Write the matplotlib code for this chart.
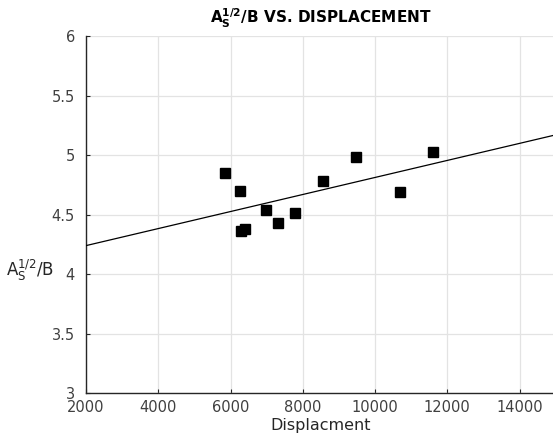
import matplotlib
matplotlib.use("Agg")
import matplotlib.pyplot as plt

plt.rcParams['font.family'] = ['DejaVu Sans']
plt.rcParams['mathtext.default'] = 'regular'

# measured displacement vs. A_S^(1/2)/B
displacement = [5840, 6260, 6290, 6400, 6980, 7310, 7790, 8570, 9460, 10690, 11610]
ratio = [4.85, 4.70, 4.36, 4.38, 4.54, 4.43, 4.51, 4.78, 4.98, 4.69, 5.03]

# linear fit, endpoints over the plotted range
fit_x = [2000, 15000]
fit_y = [4.24, 5.17]

x_ticks = [2000, 4000, 6000, 8000, 10000, 12000, 14000]
y_ticks = [3, 3.5, 4, 4.5, 5, 5.5, 6]

W, H = 553, 441
fig = plt.figure(figsize=(W / 100, H / 100), dpi=100)
ax = fig.add_axes([86 / W, 47.7 / H, (555.7 - 86) / W, (393.3 - 36) / H])

ax.plot(fit_x, fit_y, color='black', lw=0.9, zorder=3)
ax.plot(displacement, ratio, 's', color='black', markersize=7.2, zorder=4)

ax.set_xlim(2000, 15000)
ax.set_ylim(3, 6)
ax.set_xticks(x_ticks)
ax.set_yticks(y_ticks)
ax.set_yticklabels(['3', '3.5', '4', '4.5', '5', '5.5', '6'])

ax.grid(True, color='#e3e3e3', lw=0.9)
ax.set_axisbelow(True)
for side in ('top', 'right'):
    ax.spines[side].set_visible(False)
for side in ('left', 'bottom'):
    ax.spines[side].set_color('#262626')
    ax.spines[side].set_linewidth(1.0)

ax.tick_params(direction='in', length=3, width=0.8, colors='#262626',
               labelsize=10.5, labelcolor='#404040')
ax.tick_params(axis='x', pad=5)
ax.tick_params(axis='y', pad=8)

ax.set_xlabel('Displacment', fontsize=11.5, color='#262626', labelpad=2)
ax.set_ylabel(r'$A_S^{1/2}$/B', fontsize=12, color='#262626',
              rotation=0, ha='center', va='center')
ax.yaxis.set_label_coords(-0.118, 0.345)
ax.set_title(r'$\mathbf{A_S^{1/2}}$/B VS. DISPLACEMENT', fontsize=11,
             fontweight='bold', color='black', pad=9)

fig.savefig('out.png', dpi=100)
